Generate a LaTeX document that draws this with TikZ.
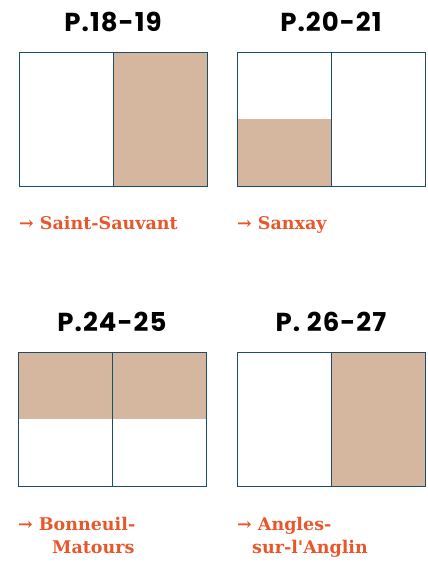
\documentclass[tikz,border=0pt]{standalone}
\usepackage{fontspec}
\newfontfamily\headfont[LetterSpace=4]{Poppins}
\newfontfamily\placefont{DejaVu Serif}
\usepackage{tikz}
\usetikzlibrary{positioning,backgrounds}
\definecolor{sand}{HTML}{D4B79E}
\definecolor{rust}{HTML}{E8572B}
\definecolor{frame}{HTML}{1E4D6B}

\begin{document}
\begin{tikzpicture}[
  x=1pt, y=1pt,
  leaf/.style={draw=frame, line width=0.9pt, minimum width=94pt,
               minimum height=134pt, inner sep=0pt, outer sep=0pt},
  spread/.style={font=\headfont\bfseries\fontsize{26}{30}\selectfont,
                 anchor=base, inner sep=0pt},
  place/.style={font=\placefont\bfseries\fontsize{17.5}{24}\selectfont,
                text=rust, anchor=base west, inner sep=0pt, align=left},
  node distance=0pt
]
\useasboundingbox (0,0) rectangle (428,565);

% Page spreads
\node[leaf]                         (a1) at (66,446) {};
\node[leaf, right=of a1, fill=sand] (a2) {};
\node[leaf]                         (b1) at (284,446) {};
\node[leaf, right=of b1]            (b2) {};
\node[leaf]                         (c1) at (65,146) {};
\node[leaf, right=of c1]            (c2) {};
\node[leaf]                         (d1) at (284,146) {};
\node[leaf, right=of d1, fill=sand] (d2) {};

% Partial shading
\begin{scope}[on background layer]
\fill[sand] (b1.west) rectangle (b1.south east);
\fill[sand] (c1.north west) rectangle (c2.east);
\end{scope}

% Page numbers
\node[spread] (ta) at ([yshift=20pt]a1.north east) {P.18-19};
\node[spread] (tb) at ([yshift=20pt]b1.north east) {P.20-21};
\node[spread] (tc) at ([yshift=20pt]c1.north east) {P.24-25};
\node[spread] (td) at ([yshift=20pt]d1.north east) {P. 26-27};

% Places
\node[place] (pa) at ([yshift=-44pt]a1.south west) {→ Saint-Sauvant};
\node[place] (pb) at ([yshift=-44pt]b1.south west) {→ Sanxay};
\node[place] (pc) at ([yshift=-68pt]c1.south west)
  {→ Bonneuil-\\\hspace*{34pt}Matours};
\node[place] (pd) at ([yshift=-68pt]d1.south west)
  {→ Angles-\\\hspace*{15pt}sur-l'Anglin};
\end{tikzpicture}
\end{document}
